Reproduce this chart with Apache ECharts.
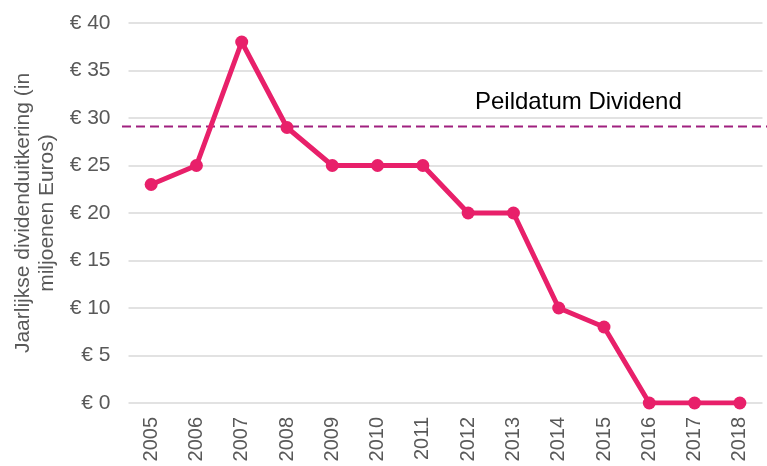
<!DOCTYPE html>
<html>
<head>
<meta charset="utf-8">
<script src="https://cdn.jsdelivr.net/npm/echarts@6/dist/echarts.min.js"></script>
<style>html,body{margin:0;padding:0;background:#fff}#c{width:767px;height:466px}</style>
</head>
<body>
<div id="c"></div>
<script>
const years = ['2005','2006','2007','2008','2009','2010','2011','2012','2013','2014','2015','2016','2017','2018'];
const dividend = [23, 25, 38, 29, 25, 25, 25, 20, 20, 10, 8, 0, 0, 0];
const peildatumValue = 29.1;
const peildatumLabel = 'Peildatum Dividend';
const yAxisName = 'Jaarlijkse dividenduitkering (in\nmiljoenen Euros)';

const chart = echarts.init(document.getElementById('c'), null, {renderer: 'canvas'});
const font = 'Liberation Sans, Arial, sans-serif';
chart.setOption({
  animation: false,
  grid: [
    {left: 128.5, right: 4.5, top: 23, bottom: 63},
    {left: 122, right: 0, top: 23, bottom: 63}
  ],
  xAxis: [
    {
      type: 'category', data: years, gridIndex: 0, boundaryGap: true,
      axisLine: {show: false}, axisTick: {show: false},
      axisLabel: {rotate: 90, color: '#595959', fontSize: 20, fontFamily: font, margin: 14}
    },
    {type: 'value', gridIndex: 1, min: 0, max: 1, show: false}
  ],
  yAxis: [
    {
      type: 'value', gridIndex: 0, min: 0, max: 40, interval: 5,
      axisLine: {show: false}, axisTick: {show: false},
      axisLabel: {color: '#595959', fontSize: 21, fontFamily: font, margin: 18,
        formatter: v => '€ ' + v},
      splitLine: {lineStyle: {color: '#d9d9d9', width: 1.5}},
      name: yAxisName, nameLocation: 'middle', nameGap: 57,
      nameTextStyle: {color: '#595959', fontSize: 21, fontFamily: font, lineHeight: 24, align: 'center'}
    },
    {type: 'value', gridIndex: 1, min: 0, max: 40, show: false}
  ],
  series: [
    {
      type: 'line', xAxisIndex: 1, yAxisIndex: 1, z: 1,
      data: [[0, peildatumValue], [1, peildatumValue]],
      symbol: 'none', silent: true,
      lineStyle: {color: '#A0207F', width: 2, type: [9, 5]}
    },
    {
      type: 'line', xAxisIndex: 0, yAxisIndex: 0, z: 3,
      data: dividend,
      symbol: 'circle', symbolSize: 13,
      itemStyle: {color: '#E8206A'},
      lineStyle: {color: '#E8206A', width: 5}
    }
  ],
  graphic: [
    {type: 'text', left: 475, top: 90,
     style: {text: peildatumLabel, fill: '#000', font: '24px ' + font}}
  ]
});
</script>
</body>
</html>
